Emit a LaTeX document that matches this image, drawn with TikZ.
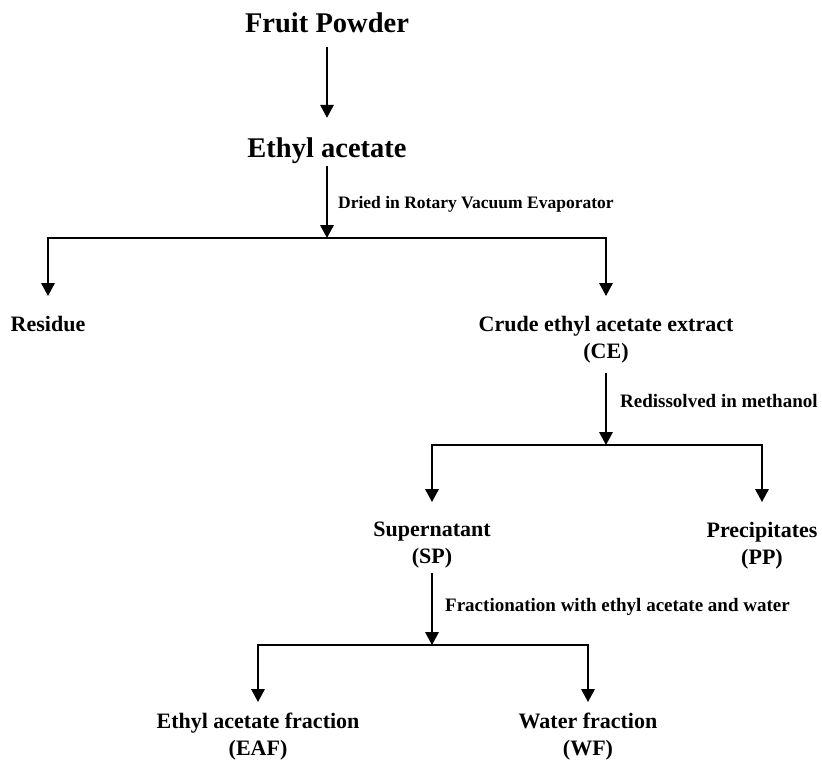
\documentclass[tikz,border=0pt]{standalone}
\usepackage{fontspec}
\setmainfont{Liberation Serif}
\usetikzlibrary{arrows.meta}
\begin{document}
\begin{tikzpicture}[x=1pt,y=-1pt,
  big/.style={font=\fontsize{28.5}{34}\selectfont\bfseries, inner sep=0pt, text height=19pt, text depth=6pt, anchor=base},
  mid/.style={font=\fontsize{22}{27}\selectfont\bfseries, inner sep=0pt, align=center, anchor=north},
  lbl/.style={font=\fontsize{17.5}{21}\selectfont\bfseries, inner sep=0pt, anchor=base west},
  varr/.style={line width=1.8pt, -{Triangle[width=13.5pt,length=13pt]}},
  hline/.style={line width=1.3pt, line cap=rect},
]
\useasboundingbox (0,0) rectangle (822,764);
% nodes
\node[big] (fp) at (327,32) {Fruit Powder};
\node[big] (ea) at (327,157) {Ethyl acetate};
\coordinate (j1) at (327,238);
\coordinate (l1) at (48,238);
\coordinate (r1) at (606,238);
\node[mid] (res) at (48,316) {Residue};
\node[mid] (ce) at (606,316) {Crude ethyl acetate extract\\(CE)};
\coordinate (j2) at (606,445);
\coordinate (l2) at (432,445);
\coordinate (r2) at (762,445);
\node[mid] (sp) at (432,522) {Supernatant\\(SP)};
\node[mid] (pp) at (762,522) {Precipitates\\(PP)};
\coordinate (j3) at (432,645);
\coordinate (l3) at (258,645);
\coordinate (r3) at (588,645);
\node[mid] (eaf) at (258,713) {Ethyl acetate fraction\\(EAF)};
\node[mid] (wf) at (588,713) {Water fraction\\(WF)};
% labels
\node[lbl] (t1) at (338,208) {Dried in Rotary Vacuum Evaporator};
\node[lbl, font=\fontsize{19}{23}\selectfont\bfseries] (t2) at (620,407) {Redissolved in methanol};
\node[lbl, font=\fontsize{19}{23}\selectfont\bfseries] (t3) at (445,611) {Fractionation with ethyl acetate and water};
% connectors
\draw[varr, shorten <=9pt, shorten >=20pt] (fp.south) -- (ea.north);
\draw[varr, shorten <=3pt] (ea.south) -- (j1);
\draw[hline] (l1) -- (r1);
\draw[varr, shorten >=20pt] (l1) -- (res.north);
\draw[varr, shorten >=20pt] (r1) -- (ce.north);
\draw[varr, shorten <=10pt] (ce.south) -- (j2);
\draw[hline] (l2) -- (r2);
\draw[varr, shorten >=20pt] (l2) -- (sp.north);
\draw[varr, shorten >=20pt] (r2) -- (pp.north);
\draw[varr, shorten <=4pt] (sp.south) -- (j3);
\draw[hline] (l3) -- (r3);
\draw[varr, shorten >=11pt] (l3) -- (eaf.north);
\draw[varr, shorten >=11pt] (r3) -- (wf.north);
\end{tikzpicture}
\end{document}
